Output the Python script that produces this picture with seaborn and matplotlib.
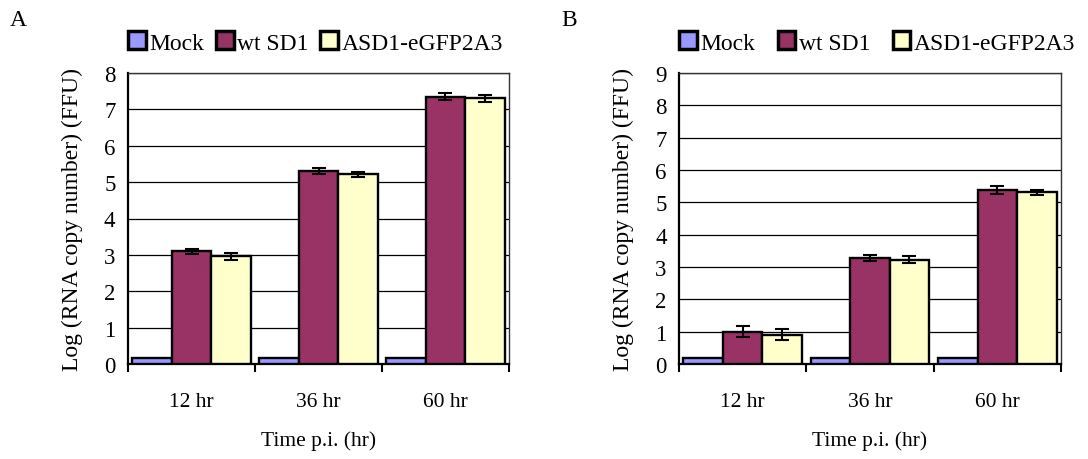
import matplotlib
matplotlib.use("Agg")
import matplotlib.pyplot as plt
import seaborn as sns
import pandas as pd
import numpy as np
from matplotlib.patches import Patch

sns.set_theme(style="white")
plt.rcParams['font.family'] = ['Liberation Serif', 'DejaVu Serif']
plt.rcParams['text.color'] = 'black'
plt.rcParams['axes.labelcolor'] = 'black'
plt.rcParams['xtick.color'] = 'black'
plt.rcParams['ytick.color'] = 'black'

categories = ["12 hr", "36 hr", "60 hr"]
series = ["Mock", "wt SD1", "ASD1-eGFP2A3"]
colors = ["#9999FF", "#993366", "#FFFFCC"]

# Panel A
a_mock = [0.17, 0.17, 0.17]
a_wt = [3.1, 5.3, 7.35]
a_asd = [2.96, 5.21, 7.3]
a_mock_err = [0, 0, 0]
a_wt_err = [0.07, 0.09, 0.09]
a_asd_err = [0.1, 0.07, 0.09]

# Panel B
b_mock = [0.2, 0.2, 0.2]
b_wt = [1.0, 3.28, 5.38]
b_asd = [0.9, 3.23, 5.31]
b_mock_err = [0, 0, 0]
b_wt_err = [0.18, 0.09, 0.11]
b_asd_err = [0.17, 0.11, 0.08]

y_label = "Log (RNA copy number) (FFU)"
x_label = "Time p.i. (hr)"


def make_df(mock, wt, asd):
    rows = []
    for s, vals in zip(series, [mock, wt, asd]):
        for c, v in zip(categories, vals):
            rows.append({"time": c, "group": s, "value": v})
    return pd.DataFrame(rows)


fig = plt.figure(figsize=(10.88, 4.6), dpi=100)
axA = fig.add_axes([128/1088, 1-365/460, (509-128)/1088, (365-74)/460])
axB = fig.add_axes([679/1088, 1-365/460, (1061-679)/1088, (365-74)/460])


def draw(ax, mock, wt, asd, errs, ymax, colspacing):
    df = make_df(mock, wt, asd)
    sns.barplot(data=df, x="time", y="value", hue="group", order=categories,
                hue_order=series, palette=colors, width=0.93, ax=ax,
                edgecolor="black", linewidth=1.7, errorbar=None, saturation=1,
                legend=False)
    for cont in ax.containers:
        for p in cont.patches:
            p.set_zorder(3)
    for cont, err in zip(ax.containers, errs):
        xs = [p.get_x() + p.get_width()/2 for p in cont.patches]
        ys = [p.get_height() for p in cont.patches]
        if max(err) > 0:
            ax.errorbar(xs, ys, yerr=err, fmt="none", ecolor="black",
                        elinewidth=1.5, capsize=5, capthick=1.5, zorder=5)
    ax.set_ylim(0, ymax)
    ax.set_xlim(-0.5, 2.5)
    ax.set_yticks(range(0, ymax+1))
    ax.yaxis.grid(True, color="black", linewidth=0.9)
    ax.xaxis.grid(False)
    ax.set_axisbelow(True)
    ax.set_xticks([-0.5, 0.5, 1.5, 2.5], minor=False)
    ax.set_xticklabels([])
    ax.set_xticks([0, 1, 2], minor=True)
    ax.set_xticklabels(categories, minor=True)
    ax.tick_params(axis="x", which="major", direction="out", length=6, width=1.5,
                   color="black", bottom=True)
    ax.tick_params(axis="x", which="minor", length=0, pad=20, labelsize=15.5)
    ax.tick_params(axis="y", length=0, pad=9, labelsize=16.5)
    for s in ["left", "bottom"]:
        ax.spines[s].set_color("black")
        ax.spines[s].set_linewidth(1.6)
    for s in ["top", "right"]:
        ax.spines[s].set_color("#333333")
        ax.spines[s].set_linewidth(1.0)
    ax.set_xlabel(x_label, fontsize=15.5, labelpad=14)
    ax.set_ylabel(y_label, fontsize=17, labelpad=15)
    handles = [Patch(facecolor=c, edgecolor="black", linewidth=2.5) for c in colors]
    ax.legend(handles, series, ncol=3, loc="center left", bbox_to_anchor=(0.0, 1.105),
              frameon=False, fontsize=17, handlelength=0.75, handleheight=0.8,
              handletextpad=0.15, columnspacing=colspacing, borderaxespad=0,
              borderpad=0)


draw(axA, a_mock, a_wt, a_asd, [a_mock_err, a_wt_err, a_asd_err], 8, 0.5)
draw(axB, b_mock, b_wt, b_asd, [b_mock_err, b_wt_err, b_asd_err], 9, 0.95)

fig.text(10/1088, 1-20/460, "A", fontsize=17, va="center", ha="left")
fig.text(561/1088, 1-20/460, "B", fontsize=17, va="center", ha="left")

fig.savefig("out.png", dpi=100, facecolor="white")
